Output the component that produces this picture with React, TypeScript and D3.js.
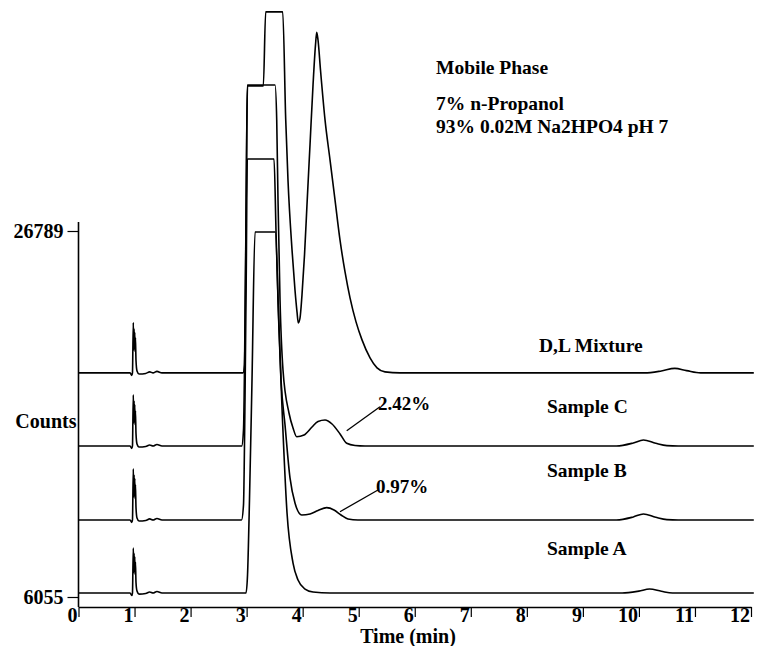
import * as d3 from "d3";
import * as React from "react";

type Pt = [number, number];

const timeTicks = [0, 1, 2, 3, 4, 5, 6, 7, 8, 9, 10, 11, 12];
const countTicks = [6055, 26789];

const traceNames = ["D,L Mixture", "Sample C", "Sample B", "Sample A"];
// baseline of each stacked trace (counts)
const traceOffsets = [18750, 14610, 10420, 6280];

// [time (min), counts above the trace's baseline]
const mixture: Pt[] = [
  [0, 0], [0.92, 0], [0.951, -140], [0.963, 0], [0.978, 2850], [0.986, 1300], [0.992, 2500],
  [0.998, 1400], [1.004, 2300], [1.01, 1200], [1.016, 2000], [1.026, 700], [1.044, 110], [1.08, -60],
  [1.2, -30], [1.27, 60], [1.33, 0], [1.4, 85], [1.49, 0],
  [2.935, 0], [2.962, 450], [2.985, 6970], [3.003, 13770], [3.016, 16260], [3.298, 16260],
  [3.34, 20450], [3.644, 20450], [3.697, 14400], [3.738, 10930], [3.81, 6970], [3.863, 4700],
  [3.899, 3455], [3.922, 2830], [3.953, 3115], [3.988, 4420], [4.033, 6685], [4.077, 9520],
  [4.131, 12920], [4.185, 16315], [4.229, 18580], [4.251, 19300], [4.274, 18860], [4.318, 17165],
  [4.399, 14330], [4.488, 12070], [4.577, 9800], [4.666, 7535], [4.756, 5720], [4.845, 4250],
  [4.952, 2890], [5.059, 1870], [5.202, 850], [5.327, 283], [5.469, 57], [5.737, 0],
  [10.1, 0], [10.4, 110], [10.64, 255], [10.85, 130], [11.1, 0], [12.05, 0],
];

const sampleC: Pt[] = [
  [0, 0], [0.92, 0], [0.951, -140], [0.963, 0], [0.978, 2900], [0.986, 1300], [0.992, 2550],
  [0.998, 1400], [1.004, 2350], [1.01, 1200], [1.016, 2000], [1.026, 700], [1.044, 110], [1.08, -60],
  [1.2, -30], [1.27, 60], [1.33, 0], [1.4, 85], [1.49, 0],
  [2.912, 0], [2.944, 900], [2.971, 7000], [2.994, 14500], [3.012, 20450], [3.507, 20450],
  [3.537, 18468], [3.56, 13936], [3.596, 8271], [3.649, 4305], [3.756, 1869], [3.828, 1020],
  [3.894, 527], [4.024, 623], [4.167, 1076], [4.274, 1388], [4.399, 1473], [4.524, 1246],
  [4.667, 680], [4.786, 153], [4.934, 28], [5.113, 0],
  [9.6, 0], [9.9, 170], [10.08, 340], [10.3, 150], [10.5, 20], [10.7, 0], [12.05, 0],
];

const sampleB: Pt[] = [
  [0, 0], [0.92, 0], [0.951, -140], [0.963, 0], [0.978, 2900], [0.986, 1300], [0.992, 2550],
  [0.998, 1400], [1.004, 2350], [1.01, 1200], [1.016, 2000], [1.026, 700], [1.044, 110], [1.08, -60],
  [1.2, -30], [1.27, 60], [1.33, 0], [1.4, 85], [1.49, 0],
  [2.909, 0], [2.944, 850], [2.971, 6800], [2.994, 14160], [3.012, 20450], [3.489, 20450],
  [3.524, 16430], [3.56, 12463], [3.614, 7931], [3.685, 5382], [3.774, 2379], [3.863, 963],
  [3.983, 283], [4.131, 340], [4.274, 538], [4.429, 697], [4.559, 567], [4.684, 283],
  [4.809, 57], [4.987, 0],
  [9.6, 0], [9.9, 170], [10.08, 340], [10.3, 150], [10.5, 20], [10.7, 0], [12.05, 0],
];

const sampleA: Pt[] = [
  [0, 0], [0.92, 0], [0.951, -140], [0.963, 0], [0.978, 2550], [0.986, 1150], [0.992, 2250],
  [0.998, 1250], [1.004, 2050], [1.01, 1050], [1.016, 1750], [1.026, 600], [1.044, 110], [1.08, -60],
  [1.2, -30], [1.27, 60], [1.33, 0], [1.4, 85], [1.49, 0],
  [2.989, 0], [3.016, 1020], [3.051, 5268], [3.096, 12066], [3.15, 20450], [3.512, 20450],
  [3.578, 14899], [3.64, 9800], [3.721, 4532], [3.828, 1700], [3.917, 736], [4.042, 227],
  [4.185, 57], [4.488, 0],
  [9.7, 0], [10.0, 110], [10.19, 227], [10.4, 100], [10.6, 0], [12.05, 0],
];

const traces = [mixture, sampleC, sampleB, sampleA];

const peakNotes = ["2.42%", "0.97%"];
// leader line ends [time, counts above baseline] for Sample C and Sample B
const noteC: Pt[] = [[4.786, 866], [5.38, 2226]];
const noteB: Pt[] = [[4.666, 467], [5.344, 1697]];

const mobilePhase = ["Mobile Phase", "7% n-Propanol", "93% 0.02M Na2HPO4 pH 7"];

export default function App() {
  const ref = React.useRef<SVGSVGElement>(null);

  React.useEffect(() => {
    const width = 757;
    const height = 646;
    const axisY = 607;
    const font = "'Liberation Serif', 'Times New Roman', Times, serif";

    const x = d3.scaleLinear().domain([0, 12]).range([78.5, 751]);
    const y = d3.scaleLinear().domain([6055, 26789]).range([597, 231]);

    const svg = d3.select(ref.current);
    svg.selectAll("*").remove();
    svg.attr("width", width).attr("height", height).attr("viewBox", [0, 0, width, height]);

    svg.append("rect").attr("width", width).attr("height", height).attr("fill", "#fff");

    // x axis
    const gx = svg
      .append("g")
      .attr("transform", `translate(0,${axisY})`)
      .call(
        d3
          .axisBottom(x)
          .tickValues(timeTicks)
          .tickSize(10)
          .tickSizeOuter(0)
          .tickFormat(d3.format("d"))
      )
      .attr("font-family", font)
      .attr("font-size", 20)
      .attr("font-weight", "bold");
    gx.select(".domain").attr("stroke", "#000").attr("stroke-width", 1.6);
    gx.selectAll(".tick line").attr("stroke", "#000").attr("stroke-width", 1.2);
    gx.selectAll(".tick text")
      .attr("fill", "#000")
      .attr("text-anchor", "end")
      .attr("x", -1.5)
      .attr("y", 14.5)
      .attr("dy", 0);

    // y axis
    const gy = svg
      .append("g")
      .attr("transform", `translate(${x(0)},0)`)
      .call(
        d3
          .axisLeft(y)
          .tickValues(countTicks)
          .tickSize(11)
          .tickSizeOuter(0)
          .tickFormat(d3.format("d"))
      )
      .attr("font-family", font)
      .attr("font-size", 20)
      .attr("font-weight", "bold");
    gy.select(".domain").remove();
    gy.selectAll(".tick line").attr("stroke", "#000").attr("stroke-width", 1.2);
    gy.selectAll(".tick text").attr("fill", "#000").attr("x", -15).attr("dy", "0.3em");
    gy.append("line")
      .attr("x1", 0)
      .attr("x2", 0)
      .attr("y1", y(countTicks[1]) - 9)
      .attr("y2", axisY)
      .attr("stroke", "#000")
      .attr("stroke-width", 1.6);

    const txt = (s: string, tx: number, ty: number, anchor = "start", size = 19.5) =>
      svg
        .append("text")
        .attr("x", tx)
        .attr("y", ty)
        .attr("text-anchor", anchor)
        .attr("font-family", font)
        .attr("font-size", size)
        .attr("font-weight", "bold")
        .attr("fill", "#000")
        .text(s);

    txt("Counts", 76.5, 428, "end", 20);
    txt("Time (min)", 408, 643, "middle", 20);

    // traces
    traces.forEach((data, i) => {
      const line = d3
        .line<Pt>()
        .x((d) => x(d[0]))
        .y((d) => y(traceOffsets[i] + d[1]))
        .curve(d3.curveMonotoneX);
      svg
        .append("path")
        .datum(data)
        .attr("fill", "none")
        .attr("stroke", "#000")
        .attr("stroke-width", 1.6)
        .attr("stroke-linejoin", "round")
        .attr("d", line);
    });

    // trace labels
    const labelPos: Pt[] = [[539, 352], [547, 413], [547, 477], [547, 555]];
    traceNames.forEach((n, i) => txt(n, labelPos[i][0], labelPos[i][1]));

    // peak annotations
    [noteC, noteB].forEach((pts, i) => {
      const off = i === 0 ? traceOffsets[1] : traceOffsets[2];
      const [a, b] = pts.map((p) => [x(p[0]), y(off + p[1])]);
      svg
        .append("line")
        .attr("x1", a[0])
        .attr("y1", a[1])
        .attr("x2", b[0])
        .attr("y2", b[1])
        .attr("stroke", "#000")
        .attr("stroke-width", 1.3);
      txt(peakNotes[i], b[0] - 2, b[1] + 3.5, "start", 19);
    });

    // mobile phase text
    const mpY = [73.5, 109.5, 133];
    mobilePhase.forEach((s, i) => txt(s, 436, mpY[i]));
  }, []);

  return <svg ref={ref} style={{ position: "absolute", left: 0, top: 0 }} />;
}
